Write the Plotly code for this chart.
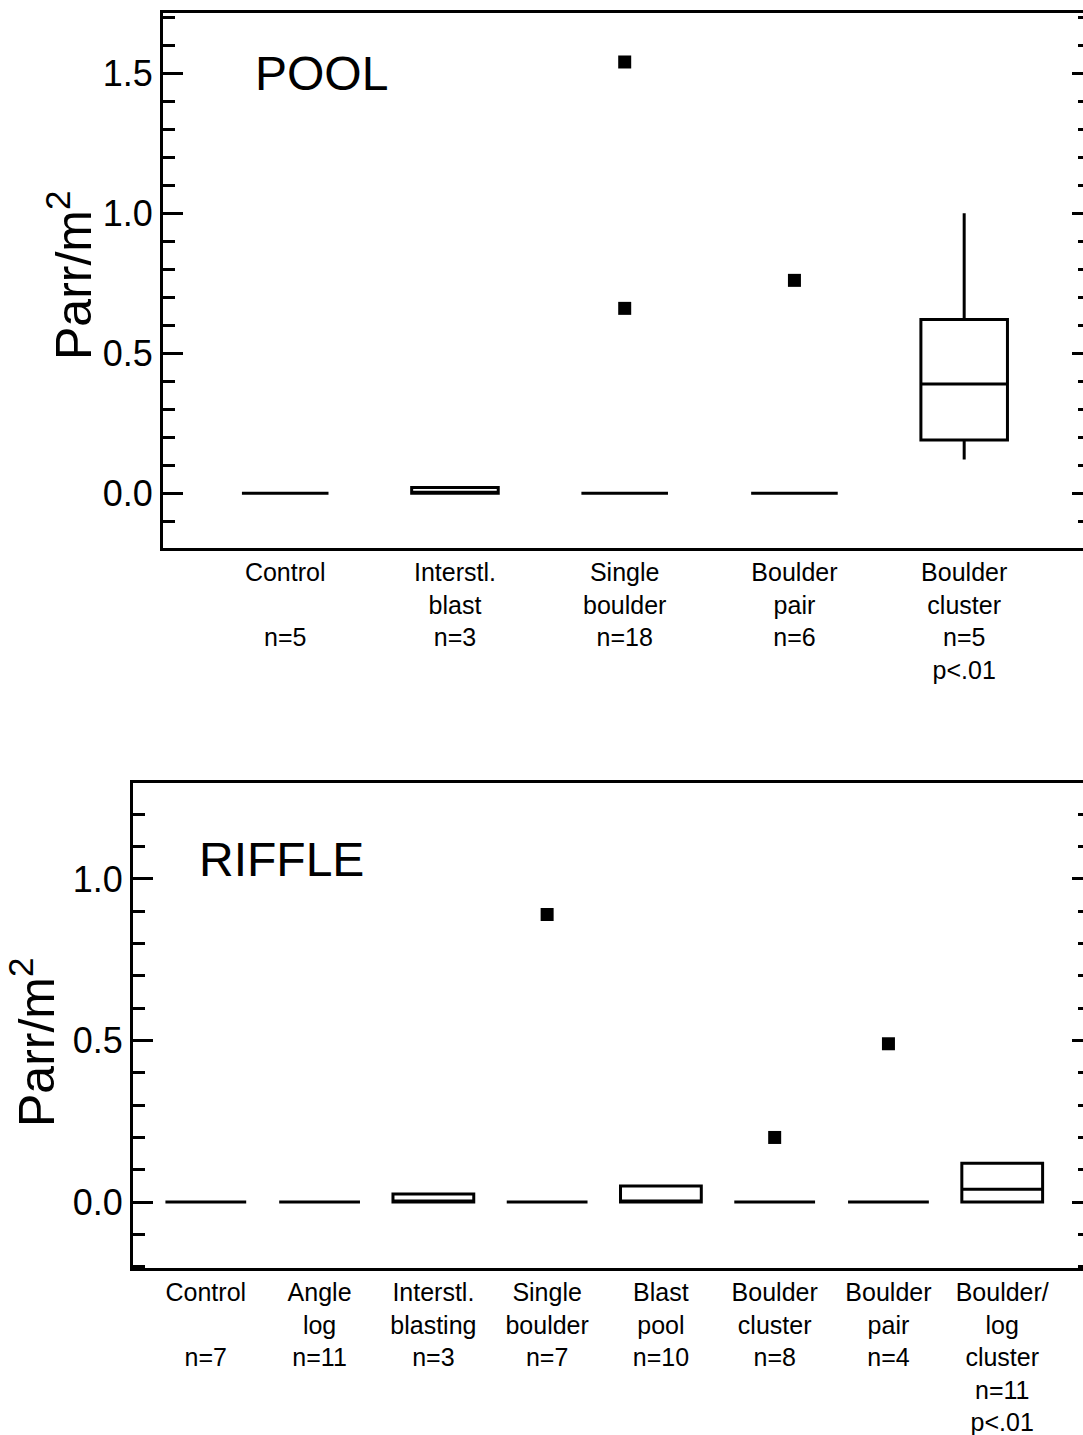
import plotly.graph_objects as go

# ---------------- POOL habitat ----------------
pool_labels = [
    "Control<br>\u00a0<br>n=5",
    "Interstl.<br>blast<br>n=3",
    "Single<br>boulder<br>n=18",
    "Boulder<br>pair<br>n=6",
    "Boulder<br>cluster<br>n=5<br>p<.01",
]
pool_q1 = [0.0, 0.0, 0.0, 0.0, 0.19]
pool_median = [0.0, 0.0, 0.0, 0.0, 0.39]
pool_q3 = [0.0, 0.02, 0.0, 0.0, 0.62]
pool_low = [0.0, 0.0, 0.0, 0.0, 0.12]
pool_high = [0.0, 0.02, 0.0, 0.0, 1.0]
pool_outlier_cat = [2, 2, 3]
pool_outlier_val = [1.54, 0.66, 0.76]

# ---------------- RIFFLE habitat ----------------
riffle_labels = [
    "Control<br>\u00a0<br>n=7",
    "Angle<br>log<br>n=11",
    "Interstl.<br>blasting<br>n=3",
    "Single<br>boulder<br>n=7",
    "Blast<br>pool<br>n=10",
    "Boulder<br>cluster<br>n=8",
    "Boulder<br>pair<br>n=4",
    "Boulder/<br>log<br>cluster<br>n=11<br>p<.01",
]
riffle_q1 = [0.0, 0.0, 0.0, 0.0, 0.0, 0.0, 0.0, 0.0]
riffle_median = [0.0, 0.0, 0.0, 0.0, 0.0, 0.0, 0.0, 0.04]
riffle_q3 = [0.0, 0.0, 0.025, 0.0, 0.05, 0.0, 0.0, 0.12]
riffle_low = [0.0, 0.0, 0.0, 0.0, 0.0, 0.0, 0.0, 0.0]
riffle_high = [0.0, 0.0, 0.025, 0.0, 0.05, 0.0, 0.0, 0.12]
riffle_outlier_cat = [3, 5, 6]
riffle_outlier_val = [0.89, 0.20, 0.49]

FONT = "Liberation Sans, Arial, Helvetica, sans-serif"
W, H = 1083, 1435

fig = go.Figure()


def add_boxes(q1, med, q3, lo, hi, xa, ya, width):
    for i in range(len(q1)):
        fig.add_trace(go.Box(
            x=[i], q1=[q1[i]], median=[med[i]], q3=[q3[i]],
            lowerfence=[lo[i]], upperfence=[hi[i]],
            width=width, whiskerwidth=0, boxpoints=False,
            line=dict(color="black", width=3),
            fillcolor="rgba(255,255,255,0)",
            xaxis=xa, yaxis=ya, showlegend=False, hoverinfo="skip",
        ))


def add_outliers(cats, vals, xa, ya):
    fig.add_trace(go.Scatter(
        x=cats, y=vals, mode="markers",
        marker=dict(symbol="square", size=13, color="black"),
        xaxis=xa, yaxis=ya, showlegend=False, hoverinfo="skip",
    ))


add_boxes(pool_q1, pool_median, pool_q3, pool_low, pool_high, "x", "y", 0.51)
add_outliers(pool_outlier_cat, pool_outlier_val, "x", "y")
add_boxes(riffle_q1, riffle_median, riffle_q3, riffle_low, riffle_high, "x2", "y2", 0.71)
add_outliers(riffle_outlier_cat, riffle_outlier_val, "x2", "y2")

# empty traces so the right-hand tick axes are rendered
fig.add_trace(go.Scatter(x=[], y=[], xaxis="x", yaxis="y3", showlegend=False))
fig.add_trace(go.Scatter(x=[], y=[], xaxis="x2", yaxis="y4", showlegend=False))

pool_dom_x = [163 / W, 1.0]
pool_dom_y = [1 - 548 / H, 1 - 13 / H]
rif_dom_x = [133 / W, 1.0]
rif_dom_y = [1 - 1268 / H, 1 - 783 / H]

pool_range = [-0.196, 1.715]
rif_range = [-0.204, 1.297]

xcommon = dict(showline=True, linecolor="black", linewidth=3, mirror=True,
               ticks="", showgrid=False, zeroline=False,
               tickfont=dict(family=FONT, size=25, color="black"))
ycommon = dict(showline=True, linecolor="black", linewidth=3,
               ticks="inside", ticklen=20, tickwidth=3, tickcolor="black",
               dtick=0.5, tickformat=".1f", showgrid=False, zeroline=False,
               tickfont=dict(family=FONT, size=36, color="black"),
               minor=dict(ticks="inside", ticklen=12, tickwidth=3,
                          tickcolor="black", dtick=0.1, showgrid=False))
yright = dict(side="right", showline=False, showticklabels=False,
              ticks="inside", ticklen=11, tickwidth=3, tickcolor="black",
              dtick=0.5, showgrid=False, zeroline=False,
              minor=dict(ticks="inside", ticklen=5, tickwidth=3,
                         tickcolor="black", dtick=0.1, showgrid=False))

fig.update_layout(
    width=W, height=H,
    margin=dict(l=0, r=0, t=0, b=0),
    paper_bgcolor="white", plot_bgcolor="white",
    font=dict(family=FONT, color="black"),
    xaxis=dict(domain=pool_dom_x, anchor="y", range=[-0.72, 4.70],
               tickvals=list(range(len(pool_labels))), ticktext=pool_labels,
               **xcommon),
    yaxis=dict(domain=pool_dom_y, anchor="x", range=pool_range, **ycommon),
    yaxis3=dict(overlaying="y", anchor="x", range=pool_range, **yright),
    xaxis2=dict(domain=rif_dom_x, anchor="y2", range=[-0.64, 7.71],
                tickvals=list(range(len(riffle_labels))), ticktext=riffle_labels,
                **xcommon),
    yaxis2=dict(domain=rif_dom_y, anchor="x2", range=rif_range, **ycommon),
    yaxis4=dict(overlaying="y2", anchor="x2", range=rif_range, **yright),
    annotations=[
        dict(text="POOL", xref="x", yref="y", x=-0.19, y=1.5,
             xanchor="left", yanchor="middle", showarrow=False,
             font=dict(family=FONT, size=48, color="black")),
        dict(text="RIFFLE", xref="x2", yref="y2", x=-0.08, y=1.06,
             xanchor="left", yanchor="middle", showarrow=False,
             font=dict(family=FONT, size=48, color="black")),
        dict(text="Parr/m<sup>2</sup>", xref="paper", yref="paper",
             x=70 / W, y=1 - 276 / H, textangle=-90,
             xanchor="center", yanchor="middle", showarrow=False,
             font=dict(family=FONT, size=50, color="black")),
        dict(text="Parr/m<sup>2</sup>", xref="paper", yref="paper",
             x=33 / W, y=1 - 1043 / H, textangle=-90,
             xanchor="center", yanchor="middle", showarrow=False,
             font=dict(family=FONT, size=50, color="black")),
    ],
)

fig.write_html("out.html")
